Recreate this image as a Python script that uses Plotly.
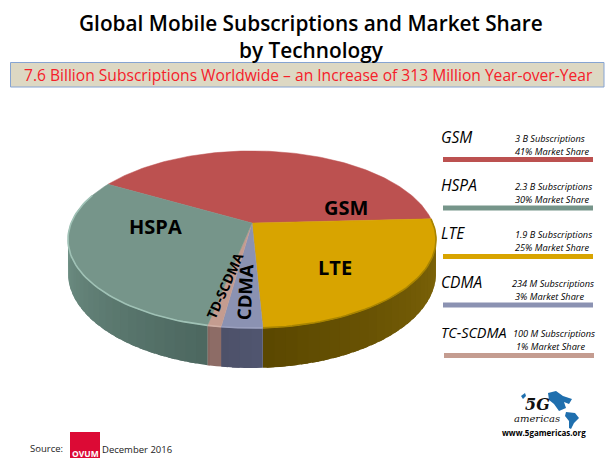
import numpy as np
import plotly.graph_objects as go

# ---- data ----
categories = ["GSM", "HSPA", "LTE", "CDMA", "TC-SCDMA"]
market_share = [41, 30, 25, 3, 1]
subscriptions = ["3 B Subscriptions", "2.3 B Subscriptions", "1.9 B Subscriptions",
                 "234 M Subscriptions", "100 M Subscriptions"]
share_labels = ["41% Market Share", "30% Market Share", "25% Market Share",
                "3% Market Share", "1% Market Share"]
slice_order = ["GSM", "LTE", "CDMA", "TC-SCDMA", "HSPA"]
top_colors = {"GSM": "#BC5150", "HSPA": "#76958A", "LTE": "#D8A400",
              "CDMA": "#8B92B2", "TC-SCDMA": "#C49C90"}
wall_from = {"GSM": "#8E3D3C", "HSPA": "#4D6860", "LTE": "#84690A",
             "CDMA": "#50556F", "TC-SCDMA": "#8D6C66"}
wall_to = {"GSM": "#8E3D3C", "HSPA": "#7A9C90", "LTE": "#5A4700",
           "CDMA": "#4C5068", "TC-SCDMA": "#87665F"}
rim_colors = {"GSM": "#C9605E", "HSPA": "#A0C2B6", "LTE": "#A88400",
              "CDMA": "#9AA0BE", "TC-SCDMA": "#D0AEA4"}

# ---- projection of the tilted disc onto the page ----
CX, CY, R, TILT, PERSP, DEPTH, START = 252, 223, 180.8, 85.5, 0.186, 32.5, 209.6


def project(theta_deg, drop=0.0):
    t = np.radians(theta_deg)
    c, s = np.cos(t), np.sin(t)
    k = 1 / (1 - PERSP * s)
    return CX + R * c * k, CY + TILT * s * k + drop * k


def hexmix(a, b, t):
    ca = [int(a[i:i + 2], 16) for i in (1, 3, 5)]
    cb = [int(b[i:i + 2], 16) for i in (1, 3, 5)]
    return "rgb({},{},{})".format(*[round(x + (y - x) * t) for x, y in zip(ca, cb)])


fig = go.Figure()
share_by_cat = dict(zip(categories, market_share))
total = sum(market_share)
edges = [START]
for name in slice_order:
    edges.append(edges[-1] + 360 * share_by_cat[name] / total)

# side wall: overlapping strips, painted in order, so no seams show
for i, name in enumerate(slice_order):
    a0, a1 = edges[i], edges[i + 1]
    if a0 > 200 and a1 > 360:
        a0, a1 = a0 - 360, a1 - 360
    lo, hi = max(a0, -12), min(a1, 192)
    if hi <= lo:
        continue
    steps = np.arange(lo, hi, 3.0).tolist() + [hi]
    for u, v in zip(steps[:-1], steps[1:]):
        th = np.linspace(u, min(v + 2.0, hi), 4)
        xt, yt = project(th)
        xb, yb = project(th[::-1], DEPTH)
        col = hexmix(wall_from[name], wall_to[name], (u - lo) / max(hi - lo, 1e-6))
        fig.add_trace(go.Scatter(x=np.r_[xt, xb], y=np.r_[yt, yb], mode="none", fill="toself",
                                 fillcolor=col, hoverinfo="skip", showlegend=False))

# top face
for i, name in enumerate(slice_order):
    th = np.arange(edges[i], edges[i + 1], 1.0).tolist() + [edges[i + 1]]
    xs, ys = project(np.array(th))
    fig.add_trace(go.Scatter(x=np.r_[CX, xs, CX], y=np.r_[CY, ys, CY], mode="lines", fill="toself",
                             fillcolor=top_colors[name], line=dict(color=top_colors[name], width=0.5),
                             hoverinfo="skip", showlegend=False))

# lit rim along the front of the disc
for i, name in enumerate(slice_order):
    a0, a1 = edges[i], edges[i + 1]
    if a0 > 200 and a1 > 360:
        a0, a1 = a0 - 360, a1 - 360
    lo, hi = max(a0, -3), min(a1, 200)
    if hi <= lo:
        continue
    xs, ys = project(np.linspace(lo, hi, 60))
    fig.add_trace(go.Scatter(x=xs, y=ys, mode="lines", line=dict(color=rim_colors[name], width=1.6),
                             hoverinfo="skip", showlegend=False))

FONT = "Open Sans"
annotations = []


def text(x, y, s, size, color="#000000", anchor="left", weight=None, italic=False, angle=0):
    f = dict(family=FONT, size=size, color=color)
    if weight:
        f["weight"] = weight
    if italic:
        f["style"] = "italic"
    annotations.append(dict(x=x, y=y, xref="x", yref="y", text=s, showarrow=False, font=f,
                            xanchor=anchor, yanchor="middle", textangle=angle, align=anchor,
                            xshift=-2 if anchor == "left" else 0))


text(311, 36.5, "Global Mobile Subscriptions and Market Share<br>by Technology", 20.8,
     anchor="center", weight=600)
text(308, 75, "7.6 Billion Subscriptions Worldwide – an Increase of 313 Million Year-over-Year",
     15.6, color="#F5202A", anchor="center")

text(155, 226, "HSPA", 20, anchor="center", weight=700)
text(346, 207, "GSM", 20, anchor="center", weight=700)
text(335, 267, "LTE", 20, anchor="center", weight=700)
text(244, 292, "CDMA", 18.5, anchor="center", weight=700, angle=-87)
text(225, 286, "TD-SCDMA", 13.5, anchor="center", weight=700, angle=-66)

name_y = [137, 185, 233, 282, 332]
sub_x = [515, 515, 515, 512, 513]
share_x = [515, 515, 515, 515, 516]
name_sizes = [15.5, 15.5, 15.5, 15.5, 14.4]
bar_y = [159.5, 208, 256.5, 305, 355.5]
shapes = [dict(type="rect", x0=10.5, x1=604, y0=62.5, y1=87, fillcolor="#DDD8C3",
               line=dict(color="#86A4D2", width=1), layer="below")]
for i, name in enumerate(categories):
    text(441, name_y[i], name, name_sizes[i], italic=True)
    text(sub_x[i], name_y[i] + 1.5, subscriptions[i], 9.2, italic=True)
    text(share_x[i], name_y[i] + 14, share_labels[i], 9.2, italic=True)
    off = 1 if i == 4 else 0
    shapes.append(dict(type="rect", x0=443 + off, x1=593 + off, y0=bar_y[i] - 2.4, y1=bar_y[i] + 2.4,
                       fillcolor=top_colors[name], line=dict(width=0)))

# source line
text(30, 448, "Source:", 9.5, color="#222222")
text(102, 449, "December 2016", 9.5, color="#222222")
shapes.append(dict(type="rect", x0=70, x1=100, y0=432, y1=458, fillcolor="#DC0A35", line=dict(width=0)))
text(85, 453, "OVUM", 8.5, color="#FFFFFF", anchor="center", weight=700)

# 5G Americas logo
blue = "#1F6FAE"
for path in ["M548,393 L556,391 L563,396 L572,399 L569,404 L564,402 L566,408 L559,411 L554,404 L549,400 Z",
             "M566,412 L575,413 L579,418 L574,423 L571,429 L569,428 L569,421 L565,416 Z",
             "M521,396 L525,393 L526,396 L523,399 Z"]:
    shapes.append(dict(type="path", path=path, fillcolor=blue, line=dict(width=0)))
annotations.append(dict(x=537, y=404, xref="x", yref="y", text="5G", showarrow=False, xanchor="center",
                        yanchor="middle", font=dict(family="DejaVu Serif", size=16, color="#111111",
                                                    style="italic", weight=700)))
annotations.append(dict(x=537, y=418, xref="x", yref="y", text="americas", showarrow=False, xanchor="center",
                        yanchor="middle", font=dict(family="DejaVu Serif", size=10, color="#111111",
                                                    style="italic")))
text(543.5, 432, "www.5gamericas.org", 8, anchor="center", weight=700)

fig.update_layout(width=610, height=460, margin=dict(l=0, r=0, t=0, b=0), autosize=False,
                  paper_bgcolor="#FFFFFF", plot_bgcolor="#FFFFFF", showlegend=False,
                  xaxis=dict(range=[0, 610], visible=False, fixedrange=True),
                  yaxis=dict(range=[460, 0], visible=False, fixedrange=True),
                  annotations=annotations, shapes=shapes)
fig.write_html("out.html", config={"displayModeBar": False},
               post_script="document.body.style.margin='0';document.body.style.overflow='hidden';")
